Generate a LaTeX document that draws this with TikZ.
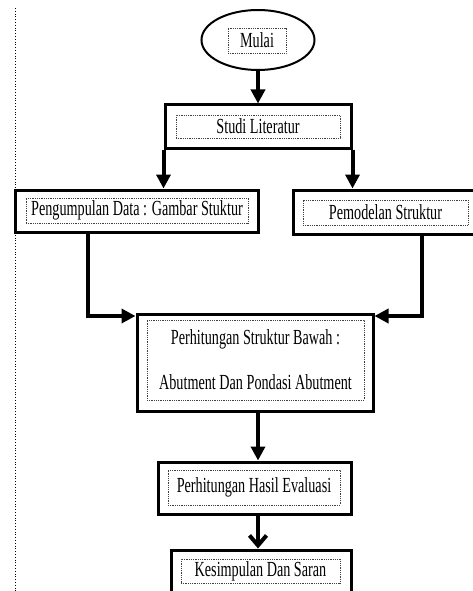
\documentclass[tikz,border=0pt]{standalone}
\usepackage{fontspec}
\setmainfont[FakeStretch=0.66]{Liberation Serif}
\usetikzlibrary{arrows.meta,shapes.geometric}

\begin{document}
\begin{tikzpicture}
		[x=1pt,y=-1pt,
		oval/.style={ellipse,draw=black,line width=2pt,inner sep=0pt,minimum width=113pt,minimum height=60pt},
		outer/.style={rectangle,draw=black,line width=3pt,inner sep=0pt},
		txt/.style={rectangle,draw=black!75,densely dotted,line width=0.8pt,inner sep=0pt,font=\fontsize{21.5}{24}\selectfont},
		arr/.style={line width=4pt,-{Triangle[length=14pt,width=14pt]}},
		arrv/.style={line width=4pt,-{Straight Barb[length=10pt,width=17pt]}}]
		\useasboundingbox (0,0) rectangle (473,591);
		\clip (0,0) rectangle (473,591);
		\draw [dotted,line width=0.8pt] (15,8) -- (15,591);

		\node [oval] (mulai) at (258,40) {};
		\node [txt,minimum width=58pt,minimum height=25pt] (mulai-t) at (257,40.5) {Mulai};

		\node [outer,minimum width=186pt,minimum height=43pt] (studi) at (258,126.5) {};
		\node [txt,minimum width=164pt,minimum height=23pt] (studi-t) at (258,126.5) {Studi Literatur};

		\node [outer,minimum width=243pt,minimum height=42pt] (peng) at (136.5,211) {};
		\node [txt,minimum width=222pt,minimum height=25pt] (peng-t) at (137,210.5) {Pengumpulan Data : Gambar Stuktur};

		\node [outer,minimum width=187pt,minimum height=44pt] (pemo) at (386.5,212) {};
		\node [txt,minimum width=165pt,minimum height=25pt] (pemo-t) at (385.5,212.5) {Pemodelan Struktur};

		\node [outer,minimum width=236pt,minimum height=97pt] (hitung) at (255,362.5) {};
		\node [txt,minimum width=217pt,minimum height=80pt,align=center] (hitung-t) at (255.5,360) {Perhitungan Struktur Bawah :\\[21pt]Abutment Dan Pondasi Abutment};

		\node [outer,minimum width=193pt,minimum height=52pt] (eval) at (254.5,488) {};
		\node [txt,minimum width=172pt,minimum height=35pt] (eval-t) at (254,487.5) {Perhitungan Hasil Evaluasi};

		\node [outer,minimum width=180pt,minimum height=44pt] (kesim) at (261,572) {};
		\node [txt,minimum width=159pt,minimum height=24pt] (kesim-t) at (260.5,571) {Kesimpulan Dan Saran};

		\coordinate (pk) at (88,316);
		\coordinate (pm) at (422,316);

		\draw [arr] (mulai.south) -- (mulai.south |- studi.north);
		\draw [arr] (studi.south west) -- (studi.south west |- peng.north);
		\draw [arr] (studi.south east) -- (studi.south east |- pemo.north);
		\draw [arr] (peng.south -| pk) -- (pk) -- (hitung.west |- pk);
		\draw [arr] (pemo.south -| pm) -- (pm) -- (hitung.east |- pm);
		\draw [arr] (hitung.south -| studi) -- (eval.north -| studi);
		\draw [arrv] (eval.south -| studi) -- (kesim.north -| studi);

	\end{tikzpicture}
\end{document}
